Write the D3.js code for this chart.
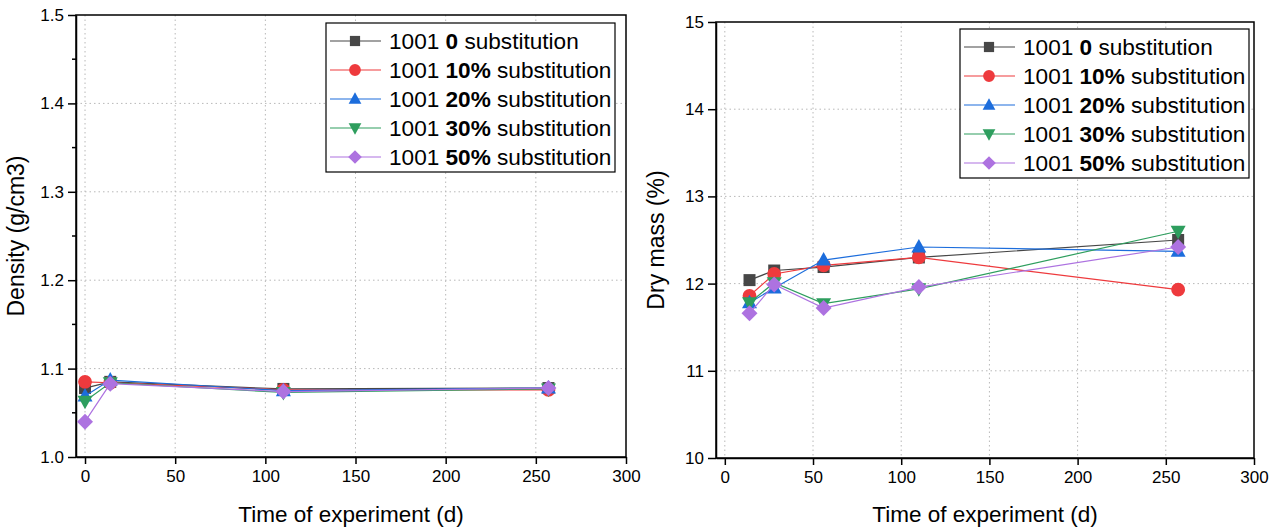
<!DOCTYPE html>
<html>
<head>
<meta charset="utf-8">
<script src="https://cdn.jsdelivr.net/npm/d3@7"></script>
<style>
  body { margin: 0; background: #fff; }
  svg { font-family: "Liberation Sans", Arial, sans-serif; }
  .grid line { stroke: #b8b8b8; stroke-dasharray: 1.5 3; }
  .axis path, .axis line { stroke: #000; stroke-width: 1.5; }
  .axis text { font-size: 17px; fill: #000; }
</style>
</head>
<body>
<div id="chart"></div>
<script>
// series labels and colours
var seriesPct = ["0", "10%", "20%", "30%", "50%"];
var seriesColors = ["#474747", "#ee3a3d", "#1c6ddc", "#2e9e5e", "#ad72e0"];
var seriesShapes = ["square", "circle", "triangle", "triangleDown", "diamond"];

// left panel: density (g/cm3)
var densityDays = [0, 14, 110, 257];
var density0 = [1.078, 1.085, 1.077, 1.078];
var density10 = [1.085, 1.084, 1.076, 1.076];
var density20 = [1.069, 1.087, 1.075, 1.078];
var density30 = [1.063, 1.084, 1.073, 1.077];
var density50 = [1.040, 1.083, 1.074, 1.078];
var densityTicks = [1.0, 1.1, 1.2, 1.3, 1.4, 1.5];

// right panel: dry mass (%)
var dryDays = [14, 28, 56, 110, 257];
var dry0 = [12.04, 12.15, 12.19, 12.30, 12.50];
var dry10 = [11.86, 12.11, 12.21, 12.30, 11.93];
var dry20 = [11.78, 11.95, 12.27, 12.42, 12.37];
var dry30 = [11.78, 12.01, 11.77, 11.94, 12.60];
var dry50 = [11.66, 11.99, 11.72, 11.96, 12.42];
var dryTicks = [10, 11, 12, 13, 14, 15];

var xTicks = [0, 50, 100, 150, 200, 250, 300];

var width = 1281;
var height = 529;

var svg = d3.select("#chart")
  .append("svg")
  .attr("width", width)
  .attr("height", height);

// marker path centred on 0,0
function markerPath(shape) {
  if (shape == "square") return "M-6,-6H6V6H-6Z";
  if (shape == "circle") return d3.symbol(d3.symbolCircle, 150)();
  if (shape == "triangle") return "M0,-8L7.5,5.5L-7.5,5.5Z";
  if (shape == "triangleDown") return "M0,8L7.5,-5.5L-7.5,-5.5Z";
  return "M0,-8L8,0L0,8L-8,0Z";
}

function drawPanel(opt) {
  var g = svg.append("g");
  var x = d3.scaleLinear().domain([-5, 300]).range([opt.left, opt.right]);
  var y = d3.scaleLinear().domain(opt.yDomain).range([opt.bottom, opt.top]);

  // dotted grid
  var grid = g.append("g").attr("class", "grid");
  grid.selectAll(".gx").data(xTicks.slice(0, -1)).enter().append("line")
    .attr("x1", d => x(d)).attr("x2", d => x(d))
    .attr("y1", opt.top).attr("y2", opt.bottom);
  grid.selectAll(".gy").data(opt.yTicks.slice(1, -1)).enter().append("line")
    .attr("x1", opt.left).attr("x2", opt.right)
    .attr("y1", d => y(d)).attr("y2", d => y(d));

  // frame
  g.append("rect")
    .attr("x", opt.left).attr("y", opt.top)
    .attr("width", opt.right - opt.left).attr("height", opt.bottom - opt.top)
    .attr("fill", "none").attr("stroke", "#000").attr("stroke-width", 1.5);

  var xAxis = d3.axisBottom(x).tickValues(xTicks).tickSize(7).tickPadding(6).tickSizeOuter(0);
  g.append("g").attr("class", "axis")
    .attr("transform", "translate(0," + opt.bottom + ")")
    .call(xAxis);

  var yAxis = d3.axisLeft(y).tickValues(opt.yTicks).tickSize(8).tickPadding(4)
    .tickSizeOuter(0).tickFormat(opt.fmt);
  g.append("g").attr("class", "axis")
    .attr("transform", "translate(" + opt.left + ",0)")
    .call(yAxis);

  // minor y ticks (left panel only)
  if (opt.minor) {
    var minor = [];
    for (var i = 0; i < opt.yTicks.length - 1; i++) minor.push((opt.yTicks[i] + opt.yTicks[i + 1]) / 2);
    g.append("g").selectAll("line").data(minor).enter().append("line")
      .attr("x1", opt.left - 4).attr("x2", opt.left)
      .attr("y1", d => y(d)).attr("y2", d => y(d))
      .attr("stroke", "#000").attr("stroke-width", 1.5);
  }

  // axis titles
  g.append("text")
    .attr("x", (opt.left + opt.right) / 2)
    .attr("y", 522)
    .attr("text-anchor", "middle")
    .attr("font-size", 22.5)
    .text("Time of experiment (d)");
  g.append("text")
    .attr("transform", "translate(" + opt.yTitleX + "," + ((opt.top + opt.bottom) / 2) + ")rotate(-90)")
    .attr("text-anchor", "middle")
    .attr("font-size", 23)
    .text(opt.yTitle);

  // lines and markers
  opt.series.forEach(function(vals, si) {
    var pts = vals.map((v, i) => [opt.days[i], v]);
    var line = d3.line().x(d => x(d[0])).y(d => y(d[1]));
    g.append("path")
      .attr("d", line(pts))
      .attr("fill", "none")
      .attr("stroke", seriesColors[si])
      .attr("stroke-width", 1.2);
    g.selectAll(".m" + si).data(pts).enter().append("path")
      .attr("d", markerPath(seriesShapes[si]))
      .attr("transform", d => "translate(" + x(d[0]) + "," + y(d[1]) + ")")
      .attr("fill", seriesColors[si]);
  });

  // legend
  var lg = g.append("g").attr("transform", "translate(" + opt.legX + "," + opt.legY + ")");
  lg.append("rect")
    .attr("width", 289).attr("height", 149)
    .attr("fill", "#fff").attr("stroke", "#000").attr("stroke-width", 1.2);
  seriesPct.forEach(function(p, si) {
    var ry = 18 + si * 29;
    lg.append("line")
      .attr("x1", 4).attr("x2", 55).attr("y1", ry).attr("y2", ry)
      .attr("stroke", seriesColors[si]).attr("stroke-width", 1.2);
    lg.append("path")
      .attr("d", markerPath(seriesShapes[si]))
      .attr("transform", "translate(29," + ry + ") scale(0.85)")
      .attr("fill", seriesColors[si]);
    var t = lg.append("text")
      .attr("x", 63).attr("y", ry + 8)
      .attr("font-size", 22.6);
    t.append("tspan").text("1001 ");
    t.append("tspan").attr("font-weight", "bold").text(p);
    t.append("tspan").text(" substitution");
  });
}

drawPanel({
  left: 76, right: 626, top: 15, bottom: 457,
  yDomain: [1.0, 1.5], yTicks: densityTicks, fmt: d3.format(".1f"),
  yTitle: "Density (g/cm3)", yTitleX: 24, minor: true,
  days: densityDays,
  series: [density0, density10, density20, density30, density50],
  legX: 326, legY: 23
});

drawPanel({
  left: 716, right: 1254, top: 22, bottom: 458,
  yDomain: [10, 15], yTicks: dryTicks, fmt: d3.format("d"),
  yTitle: "Dry mass (%)", yTitleX: 664, minor: false,
  days: dryDays,
  series: [dry0, dry10, dry20, dry30, dry50],
  legX: 960, legY: 29
});
</script>
</body>
</html>
